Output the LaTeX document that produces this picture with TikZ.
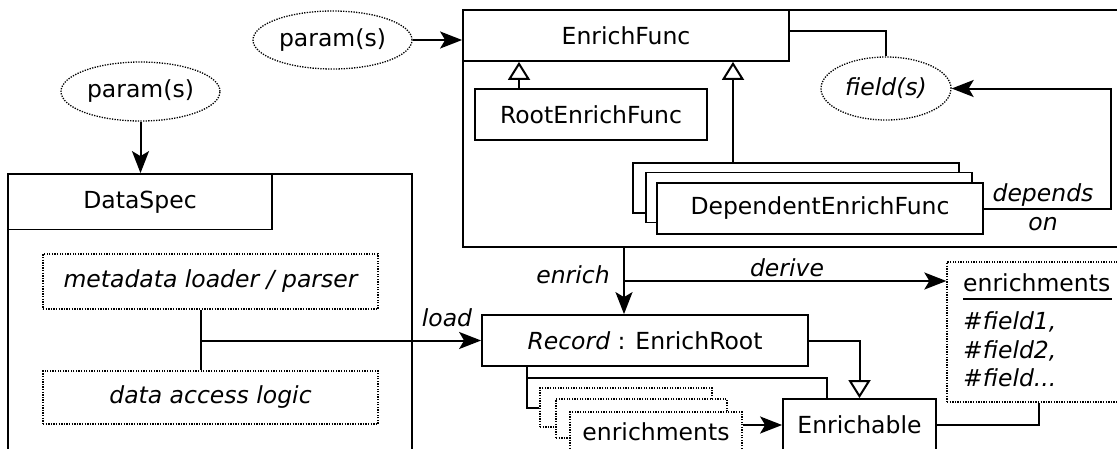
\documentclass[tikz,border=0pt]{standalone}
\usepackage{fontspec}
\setmainfont{DejaVu Sans}
\usetikzlibrary{arrows.meta,shapes.geometric}

\begin{document}
\begin{tikzpicture}[x=1pt,y=-1pt,
  every node/.style={font=\fontsize{23.5}{29}\selectfont},
  box/.style={draw, rectangle, line width=1.8pt, fill=white, inner sep=0pt},
  dbox/.style={draw, rectangle, line width=1.3pt, dash pattern=on 1.3pt off 1.3pt, fill=white, inner sep=0pt},
  oval/.style={draw, ellipse, line width=1.3pt, dash pattern=on 1.3pt off 1.3pt, fill=white, inner sep=0pt},
  conn/.style={line width=2pt},
  arr/.style={conn, -{Stealth[length=22pt,width=17pt,inset=5pt]}},
  inh/.style={conn, -{Triangle[open,length=18pt,width=22pt,fill=white]}},
  lbl/.style={font=\fontsize{23.5}{29}\selectfont\itshape, inner sep=0pt},
]
\useasboundingbox (0,0) rectangle (1117,448);
\clip (0,0) rectangle (1117,448);

% ---------- DataSpec ----------
\node[box, minimum width=404pt, minimum height=300pt] (dsOuter) at (210,324) {};
\node[box, minimum width=264pt, minimum height=55pt] (dsTitle) at (140,202) {DataSpec};
\node[dbox, minimum width=335pt, minimum height=55pt, font=\fontsize{23.5}{29}\selectfont\itshape] (meta) at (210.5,281.5) {metadata loader / parser};
\node[dbox, minimum width=335pt, minimum height=53pt, font=\fontsize{23.5}{29}\selectfont\itshape] (access) at (210.5,397.5) {data access logic};
\node[oval, minimum width=159pt, minimum height=59pt] (pLeft) at (140.5,91.5) {param(s)};

% ---------- EnrichFunc ----------
\node[box, minimum width=667pt, minimum height=237pt] (efOuter) at (796.5,128.5) {};
\node[box, minimum width=326pt, minimum height=51pt] (efTitle) at (626,35.5) {EnrichFunc};
\node[box, minimum width=232pt, minimum height=51pt] (root) at (591,114.5) {RootEnrichFunc};
\node[box, minimum width=326pt, minimum height=50pt] (depBack) at (796,188) {};
\node[box, minimum width=326pt, minimum height=50pt] (depMid) at (809,197.5) {};
\node[box, minimum width=326pt, minimum height=51pt] (depFront) at (820,208.5) {DependentEnrichFunc};
\node[oval, minimum width=130pt, minimum height=63pt, font=\fontsize{23.5}{29}\selectfont\itshape] (fields) at (886,88.5) {field(s)};
\node[oval, minimum width=159pt, minimum height=58pt] (pTop) at (332.5,40) {param(s)};

% ---------- records and enrichments ----------
\node[box, minimum width=326pt, minimum height=51pt] (record) at (645,340.5) {{\itshape Record} : EnrichRoot};
\node[dbox, minimum width=172pt, minimum height=39pt] (enrBack) at (626,407.5) {};
\node[dbox, minimum width=171pt, minimum height=39pt] (enrMid) at (641.5,418.5) {};
\node[dbox, minimum width=172pt, minimum height=39pt] (enrFront) at (656,431.5) {enrichments};
\node[box, minimum width=153pt, minimum height=52pt] (enrichable) at (859.5,425) {Enrichable};
\node[dbox, minimum width=183pt, minimum height=140pt] (enrList) at (1038.5,332) {};
\node[anchor=west, inner sep=0pt] (elTitle) at (963,283) {enrichments};
\node[anchor=west, lbl] (f1) at (963,322) {\#field1,};
\node[anchor=west, lbl] (f2) at (963,351) {\#field2,};
\node[anchor=west, lbl] (f3) at (963,378) {\#field...};
\draw[line width=1.4pt] (elTitle.west |- 0,299) -- (1112,299);

% ---------- connectors ----------
\draw[arr] (pTop.east) -- (efTitle.west |- pTop.east);
\draw[arr] (pLeft.south) -- (pLeft.south |- dsOuter.north);
\draw[conn] ([yshift=4.5pt]efTitle.east) -| (fields.north);
\draw[inh] ([xshift=-72pt]root.north) -- ([xshift=-72pt]root.north |- efTitle.south);
\draw[inh] ([xshift=-63pt]depBack.north) -- ([xshift=-63pt]depBack.north |- efTitle.south);
\draw[arr] (depFront.east) -- ++(127,0) |- (fields.east);
\node[lbl, align=center] (dependsOn) at (1043,207) {depends\\on};

% enrich / derive
\draw[arr] ([xshift=-21pt]record.north |- efOuter.south) -- ([xshift=-21pt]record.north);
\node[lbl] (enrichLbl) at (573,275) {enrich};
\coordinate (dv) at (624,281);
\draw[arr] (dv) -- (dv -| enrList.west);
\node[lbl] (deriveLbl) at (787,268) {derive};

% load
\draw[conn] ([xshift=-9.5pt]meta.south) -- ([xshift=-9.5pt]access.north);
\coordinate (ld) at (201,340.5);
\draw[arr] (ld) -- (record.west);
\node[lbl] (loadLbl) at (447,318) {load};

% record relations
\draw[inh] (record.east) -| (enrichable.north);
\draw[conn] ([xshift=-118pt]record.south) |- (enrBack.west);
\coordinate (rb) at (527,378);
\draw[conn] (rb) -| ([xshift=-32.5pt]enrichable.north);
\draw[arr] (enrFront.east |- enrichable.west) -- (enrichable.west);
\draw[conn] (enrichable.east) -| (enrList.south);
\end{tikzpicture}
\end{document}
